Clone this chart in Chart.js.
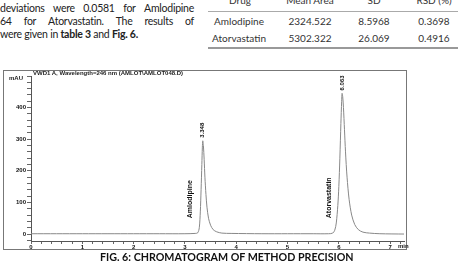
<!DOCTYPE html>
<html>
<head>
<meta charset="utf-8">
<script src="https://cdn.jsdelivr.net/npm/chart.js@4.4.0/dist/chart.umd.min.js"></script>
<style>
  body { margin: 0; width: 458px; height: 264px; background: #fff; overflow: hidden; position: relative; font-family: Lato, "Open Sans", sans-serif; color: #222; }
  .txt { position: absolute; left: 0; width: 194px; font-size: 10.5px; line-height: 13px; white-space: nowrap; letter-spacing: -0.25px; }
  .just { display: flex; justify-content: space-between; }
  .cell { position: absolute; font-size: 10px; transform: translateX(-50%); white-space: nowrap; color: #333; }
  .rule { position: absolute; left: 208px; width: 250px; }
  .frame { position: absolute; left: 3px; top: 70px; width: 402px; height: 178px; border: 1px solid #777; }
  .lab { position: absolute; font-family: "Liberation Sans", Arial, sans-serif; font-size: 6px; font-weight: bold; color: #222; white-space: nowrap; }
  #chartBox { position: absolute; left: 0; top: 60px; width: 410px; height: 195px; }
  .cap { position: absolute; left: 100px; top: 250px; font-size: 10.7px; font-weight: bold; white-space: nowrap; color: #111; }
</style>
</head>
<body>
<div class="txt just" style="top:2px"><span>deviations</span><span>were</span><span>0.0581</span><span>for</span><span>Amlodipine</span></div>
<div class="txt just" style="top:15px"><span>64</span><span>for</span><span>Atorvastatin.</span><span>The</span><span>results</span><span>of</span></div>
<div class="txt" style="top:28px">were given in <b>table 3</b> and <b>Fig. 6.</b></div>

<div class="cell" style="left:240px; top:-6px">Drug</div>
<div class="cell" style="left:310px; top:-6px">Mean Area</div>
<div class="cell" style="left:374px; top:-6px">SD</div>
<div class="cell" style="left:434px; top:-6px">RSD (%)</div>
<div class="rule" style="top:11px; border-top:1px solid #aaa"></div>
<div id="rows"></div>
<div class="rule" style="top:47px; border-top:2px solid #999"></div>

<div class="frame"></div>
<div id="chartBox"><canvas id="myChart"></canvas></div>
<div class="lab" style="left:33px; top:70px">VWD1 A, Wavelength=246 nm (AMLOT\AMLOT048.D)</div>
<div class="lab" style="left:9px; top:75px">mAU</div>
<div class="lab" style="left:398px; top:243px">min</div>
<div class="cap">FIG. 6: CHROMATOGRAM OF METHOD PRECISION</div>

<script>
// table 3
const drugs = ['Amlodipine', 'Atorvastatin'];
const meanArea = ['2324.522', '5302.322'];
const sdValues = ['8.5968', '26.069'];
const rsdValues = ['0.3698', '0.4916'];

// chromatogram trace (min, mAU)
const chromTime = [0, 0.5, 1, 1.5, 2, 2.5, 3, 3.2, 3.25, 3.28, 3.3, 3.315, 3.33, 3.34, 3.348, 3.36, 3.375, 3.39, 3.41, 3.43, 3.46, 3.5, 3.55, 3.62, 3.72, 3.9, 4.5, 5, 5.5, 5.8, 5.88, 5.92, 5.95, 5.98, 6.0, 6.02, 6.04, 6.055, 6.063, 6.075, 6.09, 6.11, 6.13, 6.16, 6.2, 6.25, 6.31, 6.38, 6.47, 6.6, 6.8, 7.27];
const chromSignal = [1, 1, 1, 1, 1, 1, 1, 2, 4, 20, 70, 140, 220, 275, 295, 280, 235, 180, 125, 85, 50, 28, 14, 7, 3, 2, 1, 1, 1, 1, 3, 12, 35, 90, 150, 240, 350, 420, 445, 435, 400, 330, 260, 180, 110, 60, 30, 14, 6, 3, 1, 0];

const peakTimes = [3.348, 6.063];
const peakHeights = [295, 445];
const peakRT = ['3.348', '6.063'];
const peakNames = ['Amlodipine', 'Atorvastatin'];

const rowTops = [15, 32];
drugs.forEach(function (d, i) {
    const cols = [[239, d], [310, meanArea[i]], [374, sdValues[i]], [434, rsdValues[i]]];
    cols.forEach(function (c) {
        const el = document.createElement('div');
        el.className = 'cell';
        el.style.left = c[0] + 'px';
        el.style.top = rowTops[i] + 'px';
        el.textContent = c[1];
        document.getElementById('rows').appendChild(el);
    });
});

const peakLabels = {
    id: 'peakLabels',
    afterDatasetsDraw(chart) {
        const ctx = chart.ctx;
        const xs = chart.scales.x, ys = chart.scales.y;
        ctx.save();
        ctx.fillStyle = '#111';
        ctx.textBaseline = 'middle';
        peakTimes.forEach(function (t, i) {
            const px = xs.getPixelForValue(t);
            ctx.save();
            ctx.translate(px, ys.getPixelForValue(peakHeights[i]) - 3);
            ctx.rotate(-Math.PI / 2);
            ctx.font = 'bold 6px "Liberation Sans", Arial, sans-serif';
            ctx.textAlign = 'left';
            ctx.fillText(peakRT[i], 0, 0);
            ctx.restore();

            ctx.save();
            ctx.translate(px - 13, ys.getPixelForValue(50));
            ctx.rotate(-Math.PI / 2);
            ctx.font = 'bold 7px "Liberation Sans Narrow", "Liberation Sans", Arial, sans-serif';
            ctx.textAlign = 'left';
            ctx.fillText(peakNames[i], 0, 0);
            ctx.restore();
        });
        ctx.restore();
    }
};

const ctx = document.getElementById('myChart');
new Chart(ctx, {
    type: 'line',
    data: {
        datasets: [{
            data: chromTime.map(function (t, i) { return {x: t, y: chromSignal[i]}; }),
            borderColor: '#888',
            borderWidth: 1,
            pointRadius: 0,
            tension: 0.3,
            fill: false
        }]
    },
    options: {
        responsive: true,
        maintainAspectRatio: false,
        animation: false,
        layout: {padding: {top: 16, right: 6, left: 0, bottom: 0}},
        plugins: {legend: {display: false}, tooltip: {enabled: false}},
        scales: {
            x: {
                type: 'linear',
                min: 0,
                max: 7.27,
                afterFit: function (s) { s.height = 14; },
                border: {color: '#555'},
                grid: {drawOnChartArea: false, tickLength: 3, color: '#666'},
                ticks: {
                    stepSize: 0.2,
                    includeBounds: false,
                    autoSkip: false,
                    maxRotation: 0,
                    padding: 0,
                    color: '#111',
                    font: {size: 6, weight: 'bold', family: '"Liberation Sans", Arial'},
                    callback: function (v) {
                        return Math.abs(v - Math.round(v)) < 1e-6 ? Math.round(v) : '';
                    }
                }
            },
            y: {
                min: -22,
                max: 500,
                afterFit: function (s) { s.width = 31; },
                border: {color: '#555'},
                grid: {drawOnChartArea: false, tickLength: 4, color: '#666'},
                ticks: {
                    stepSize: 20,
                    includeBounds: false,
                    autoSkip: false,
                    padding: 1,
                    color: '#111',
                    font: {size: 6, weight: 'bold', family: '"Liberation Sans", Arial'},
                    callback: function (v) { return v >= 0 && v <= 400 && v % 100 === 0 ? v : ''; }
                }
            }
        }
    },
    plugins: [peakLabels]
});
</script>
</body>
</html>
